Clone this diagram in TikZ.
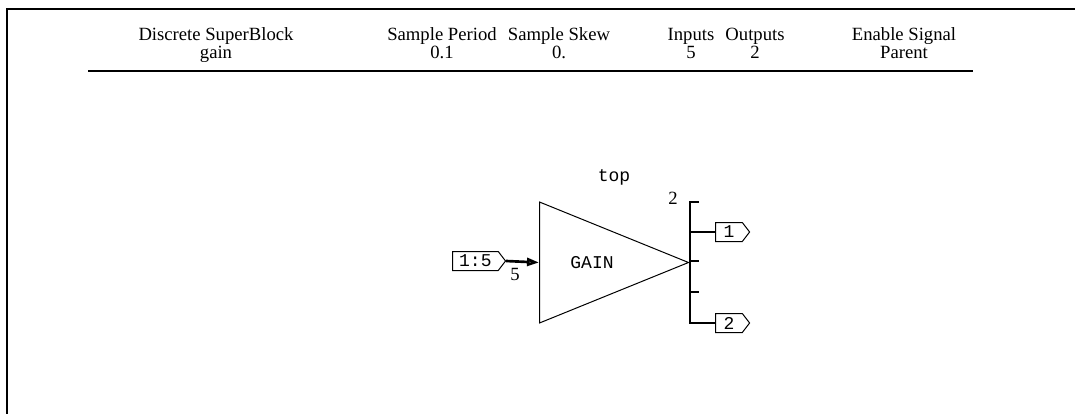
\documentclass[tikz,border=0pt]{standalone}
\usepackage{fontspec}
\setmainfont{Liberation Serif}
\setmonofont{Liberation Mono}
\usetikzlibrary{shapes.geometric,shapes.symbols,arrows.meta}

\begin{document}
\begin{tikzpicture}[x=0.75pt, y=-0.75pt,
    every node/.style={font=\fontsize{14}{16}\selectfont, inner sep=0pt},
    head/.style={anchor=base},
    mono/.style={font=\ttfamily\fontsize{13.5}{15}\selectfont},
    port/.style={draw, signal, signal to=east, signal pointer angle=105,
      minimum height=14.25pt, inner ysep=1pt, line width=0.75pt, mono},
    wire/.style={line width=1.1pt}]
    \useasboundingbox (0,0) rectangle (1075,414);
    % frame
    \draw[line width=1.8pt] (7,414) -- (7,9) -- (1075,9);
    % header
    \node[head] (blk) at (216,40) {Discrete SuperBlock};
    \node[head] (blkval) at (216,58) {gain};
    \node[head] (per) at (442,40) {Sample Period};
    \node[head] (perval) at (442,58) {0.1};
    \node[head] (skew) at (559,40) {Sample Skew};
    \node[head] (skewval) at (559,58) {0.};
    \node[head] (ins) at (691,40) {Inputs};
    \node[head] (insval) at (691,58) {5};
    \node[head] (outs) at (755,40) {Outputs};
    \node[head] (outsval) at (755,58) {2};
    \node[head] (enab) at (904,40) {Enable Signal};
    \node[head] (enabval) at (904,58) {Parent};
    \draw[line width=1.6pt] (88,71) -- (973,71);
    % block
    \node[draw, line width=0.75pt, isosceles triangle, isosceles triangle stretches,
      minimum width=90.75pt, minimum height=111.75pt, anchor=lower side] (gain) at (539,262.5) {};
    \node[mono] (gaintxt) at (592,263) {GAIN};
    \node[mono] (top) at (614,177.5) {top};
    % ports
    \node[port, inner xsep=5pt, anchor=west] (in) at (452,261) {1:5};
    \node[port, inner xsep=6pt, anchor=west] (out1) at (715,232) {1};
    \node[port, inner xsep=6pt, anchor=west] (out2) at (715,323) {2};
    % input wire
    \draw[line width=2pt, -{Triangle[open, length=9pt, width=6pt]}] (in.east) -- (gain.lower side);
    \node (inw) at (515,274) {5};
    % output bus
    \coordinate (bt) at (690,202);
    \coordinate (bm) at (690,261);
    \coordinate (bl) at (690,292);
    \draw[wire] (699,202) -- (bt) |- (out2.west);
    \draw[wire] (bt |- out1.west) -- (out1.west);
    \draw[wire] (bm) -- ++(9,0);
    \draw[wire] (bl) -- ++(9,0);
    \node (outw) at (673,198) {2};
\end{tikzpicture}
\end{document}
